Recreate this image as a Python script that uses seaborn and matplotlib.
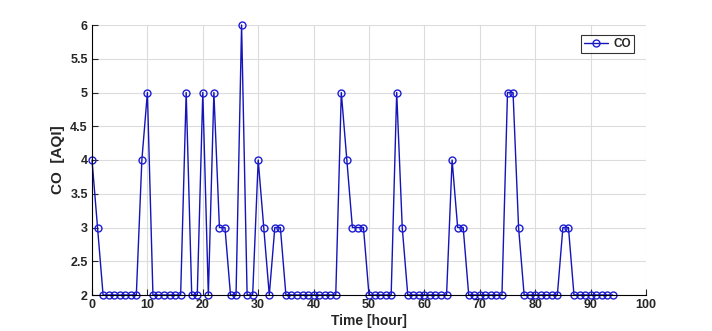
import numpy as np
import pandas as pd
import matplotlib
matplotlib.use("Agg")
import matplotlib.pyplot as plt
import seaborn as sns

# Hourly CO air quality index readings
hours = list(range(95))
co_aqi = [4, 3, 2, 2, 2, 2, 2, 2, 2, 4,
          5, 2, 2, 2, 2, 2, 2, 5, 2, 2,
          5, 2, 5, 3, 3, 2, 2, 6, 2, 2,
          4, 3, 2, 3, 3, 2, 2, 2, 2, 2,
          2, 2, 2, 2, 2, 5, 4, 3, 3, 3,
          2, 2, 2, 2, 2, 5, 3, 2, 2, 2,
          2, 2, 2, 2, 2, 4, 3, 3, 2, 2,
          2, 2, 2, 2, 2, 5, 5, 3, 2, 2,
          2, 2, 2, 2, 2, 3, 3, 2, 2, 2,
          2, 2, 2, 2, 2]
x_ticks = [0, 10, 20, 30, 40, 50, 60, 70, 80, 90, 100]
y_ticks = [2, 2.5, 3, 3.5, 4, 4.5, 5, 5.5, 6]
y_tick_labels = ["2", "2.5", "3", "3.5", "4", "4.5", "5", "5.5", "6"]

df = pd.DataFrame({"hour": hours, "CO": co_aqi})

sns.set_style("white")
plt.rcParams["font.family"] = ["Liberation Sans", "DejaVu Sans"]

fig = plt.figure(figsize=(7.12, 3.31), dpi=100)
ax = fig.add_axes([92 / 712, 1 - 295 / 331, (646 - 92) / 712, (295 - 25) / 331])

line_color = "#1414b8"
sns.lineplot(data=df, x="hour", y="CO", ax=ax, color=line_color, linewidth=1.0,
             marker="o", markersize=5, markerfacecolor="none",
             markeredgecolor="#1e1ed2", markeredgewidth=1.0, label="CO",
             clip_on=False)

ax.set_xlim(0, 100)
ax.set_ylim(2, 6)
ax.set_xticks(x_ticks)
ax.set_yticks(y_ticks)
ax.set_yticklabels(y_tick_labels)
ax.grid(True, color="#dcdcdc", linewidth=0.8)
ax.set_axisbelow(True)
for side in ("top", "right"):
    ax.spines[side].set_visible(False)
for side in ("left", "bottom"):
    ax.spines[side].set_color("black")
    ax.spines[side].set_linewidth(0.8)
ax.tick_params(direction="in", length=4, width=0.8, labelsize=9, pad=3,
               left=True, bottom=True)
for lbl in ax.get_xticklabels() + ax.get_yticklabels():
    lbl.set_fontweight("bold")

ax.set_xlabel("Time [hour]", fontsize=10, fontweight="bold", labelpad=2)
ax.set_ylabel("CO  [AQI]", fontsize=11, fontweight="bold", labelpad=4)

leg = ax.legend(loc="upper right", bbox_to_anchor=(0.983, 0.97), frameon=True,
                fancybox=False, edgecolor="black", fontsize=8.5,
                handlelength=2.0, borderpad=0.25, handletextpad=0.5,
                borderaxespad=0.2)
leg.get_frame().set_linewidth(0.8)
for t in leg.get_texts():
    t.set_fontweight("bold")

fig.savefig("out.png", dpi=100)
